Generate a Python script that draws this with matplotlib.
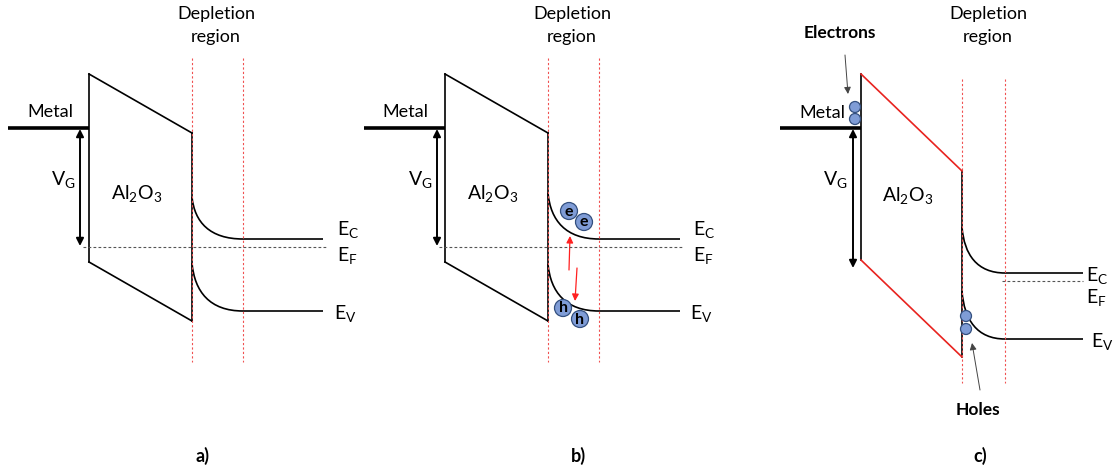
import matplotlib
matplotlib.use("Agg")
import matplotlib.pyplot as plt
from matplotlib.path import Path
from matplotlib.patches import PathPatch, Circle, FancyArrowPatch

plt.rcParams['font.family'] = ['Lato', 'DejaVu Sans']
plt.rcParams['mathtext.fontset'] = 'custom'
plt.rcParams['mathtext.rm'] = 'Lato'
plt.rcParams['mathtext.it'] = 'Lato:italic'
plt.rcParams['mathtext.bf'] = 'Lato:bold'

# ---- data (pixel-space geometry of the three band diagrams) ----
panel_labels = ['a)', 'b)', 'c)']
metal_x0 = [8, 364, 780]
ox_left = [89, 445, 861]
ox_right = [192, 548, 962]
ox_top_left = [74, 74, 74]
ox_bot_left = [262, 262, 260]
ox_top_right = [133, 133, 171]
ox_bot_right = [321, 321, 357]
metal_y = [128, 128, 128]
depl_right = [243, 599, 1005]
depl_top = [58, 58, 79]
depl_bot = [362, 362, 383]
ec_start = [197, 193, 227]
ec_flat = [239, 239, 273]
ev_start = [263, 264, 291]
ev_flat = [311, 311, 339]
band_end = [323, 680, 1083]
ef_y = [247, 247, 281]
ef_x0 = [83, 439, 1002]
ef_x1 = [327, 683, 1083]
vg_x = [80, 437, 853]
vg_bot = [246, 246, 268]
slant_color = ['black', 'black', '#e8231f']

# text anchors
metal_lbl = [(50, 112), (405, 112), (822, 113)]
vg_lbl = [(63, 180), (420, 180), (835, 180)]
ox_lbl = [(137, 193), (493, 193), (908, 195)]
ec_lbl = [(337, 229), (693, 229), (1086, 275)]
ef_lbl = [(337, 255), (693, 255), (1086, 297)]
ev_lbl = [(334, 313), (690, 313), (1091, 341)]
depl_lbl_x = [216, 572, 988]
panel_lbl_x = [203, 578, 980]

# carriers
b_electrons = [(569, 211), (584, 222)]
b_holes = [(563, 308), (580, 319)]
c_electrons = [(855, 107), (855, 119)]
c_holes = [(966, 316), (966, 329)]

fig = plt.figure(figsize=(11.17, 4.69), dpi=100)
ax = fig.add_axes([0, 0, 1, 1])
ax.set_xlim(0, 1117)
ax.set_ylim(469, 0)
ax.axis('off')

fs = 13

def band(x0, x1, xe, y0, y1):
    w = x1 - x0
    d = y1 - y0
    verts = [(x0, y0), (x0 + 0.05 * w, y0 + 0.6 * d), (x0 + 0.35 * w, y1), (x1, y1), (xe, y1)]
    codes = [Path.MOVETO, Path.CURVE4, Path.CURVE4, Path.CURVE4, Path.LINETO]
    ax.add_patch(PathPatch(Path(verts, codes), fill=False, lw=1.2, color='black'))

for i in range(3):
    L, R = ox_left[i], ox_right[i]
    ax.plot([metal_x0[i], L], [metal_y[i]] * 2, color='black', lw=2.6, solid_capstyle='butt')
    ax.plot([L, L], [ox_top_left[i], ox_bot_left[i]], color='black', lw=1.2)
    ax.plot([R, R], [ox_top_right[i], ox_bot_right[i]], color='black', lw=1.2)
    ax.plot([L, R], [ox_top_left[i], ox_top_right[i]], color=slant_color[i], lw=1.2)
    ax.plot([L, R], [ox_bot_left[i], ox_bot_right[i]], color=slant_color[i], lw=1.2)
    for x in (R, depl_right[i]):
        ax.plot([x, x], [depl_top[i], depl_bot[i]], color='#f05050', lw=0.8, ls=(0, (2, 2)))
    band(R, depl_right[i], band_end[i], ec_start[i], ec_flat[i])
    band(R, depl_right[i], band_end[i], ev_start[i], ev_flat[i])
    ax.plot([ef_x0[i], ef_x1[i]], [ef_y[i]] * 2, color='#555555', lw=0.8, ls=(0, (2.5, 2)))
    ax.add_patch(FancyArrowPatch((vg_x[i], metal_y[i] + 1), (vg_x[i], vg_bot[i]),
                                 arrowstyle='<|-|>', mutation_scale=11, lw=1.4, color='black',
                                 shrinkA=0, shrinkB=0))
    ax.text(*metal_lbl[i], 'Metal', fontsize=fs, ha='center', va='center')
    ax.text(*vg_lbl[i], r'$\mathrm{V_G}$', fontsize=fs + 1, ha='center', va='center')
    ax.text(*ox_lbl[i], r'$\mathrm{Al_2O_3}$', fontsize=fs + 1, ha='center', va='center')
    ax.text(*ec_lbl[i], r'$\mathrm{E_C}$', fontsize=fs + 1, ha='left', va='center')
    ax.text(*ef_lbl[i], r'$\mathrm{E_F}$', fontsize=fs + 1, ha='left', va='center')
    ax.text(*ev_lbl[i], r'$\mathrm{E_V}$', fontsize=fs + 1, ha='left', va='center')
    ax.text(depl_lbl_x[i], 14, 'Depletion', fontsize=fs, ha='center', va='center')
    ax.text(depl_lbl_x[i], 37, 'region', fontsize=fs, ha='center', va='center')
    ax.text(panel_lbl_x[i], 456, panel_labels[i], fontsize=fs, ha='center', va='center', fontweight='bold')

fc = '#7f9cd6'
ec = '#34507f'
for (x, y), s in [(p, 'e') for p in b_electrons] + [(p, 'h') for p in b_holes]:
    ax.add_patch(Circle((x, y), 8.5, facecolor=fc, edgecolor=ec, lw=0.9, zorder=5))
    ax.text(x, y + 0.5, s, fontsize=11.5, fontweight='bold', ha='center', va='center', zorder=6)
for (x, y) in c_electrons + c_holes:
    ax.add_patch(Circle((x, y), 5.5, facecolor=fc, edgecolor=ec, lw=0.9, zorder=5))

ax.add_patch(FancyArrowPatch((569, 270), (570, 236), arrowstyle='-|>', mutation_scale=10,
                             lw=0.9, color='#ff2020', shrinkA=0, shrinkB=0))
ax.add_patch(FancyArrowPatch((577, 268), (575, 301), arrowstyle='-|>', mutation_scale=10,
                             lw=0.9, color='#ff2020', shrinkA=0, shrinkB=0))

ax.text(840, 33, 'Electrons', fontsize=fs - 0.5, fontweight='bold', ha='center', va='center')
ax.add_patch(FancyArrowPatch((845, 55), (848, 94), arrowstyle='-|>', mutation_scale=10,
                             lw=0.7, color='#444444', shrinkA=0, shrinkB=0))
ax.text(978, 410, 'Holes', fontsize=fs - 0.5, fontweight='bold', ha='center', va='center')
ax.add_patch(FancyArrowPatch((980, 390), (972, 343), arrowstyle='-|>', mutation_scale=10,
                             lw=0.7, color='#444444', shrinkA=0, shrinkB=0))

fig.savefig('out.png', dpi=100)
